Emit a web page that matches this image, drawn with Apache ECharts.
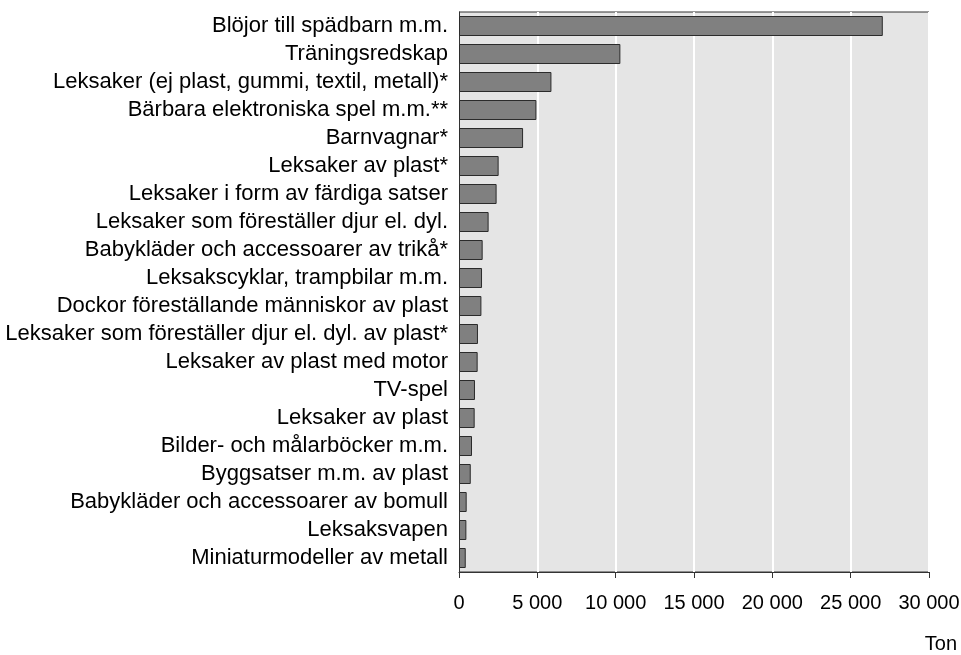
<!DOCTYPE html>
<html>
<head>
<meta charset="utf-8">
<script src="https://cdn.jsdelivr.net/npm/echarts@6/dist/echarts.min.js"></script>
<style>
  html, body { margin: 0; padding: 0; background: #fff; }
  #chart { width: 961px; height: 655px; }
</style>
</head>
<body>
<div id="chart"></div>
<script>
// kategorier, uppifrån och ned
const categories = [
  'Blöjor till spädbarn m.m.',
  'Träningsredskap',
  'Leksaker (ej plast, gummi, textil, metall)*',
  'Bärbara elektroniska spel m.m.**',
  'Barnvagnar*',
  'Leksaker av plast*',
  'Leksaker i form av färdiga satser',
  'Leksaker som föreställer djur el. dyl.',
  'Babykläder och accessoarer av trikå*',
  'Leksakscyklar, trampbilar m.m.',
  'Dockor föreställande människor av plast',
  'Leksaker som föreställer djur el. dyl. av plast*',
  'Leksaker av plast med motor',
  'TV-spel',
  'Leksaker av plast',
  'Bilder- och målarböcker m.m.',
  'Byggsatser m.m. av plast',
  'Babykläder och accessoarer av bomull',
  'Leksaksvapen',
  'Miniaturmodeller av metall'
]

// ton
const values = [27050, 10300, 5900, 4940, 4090, 2530, 2400, 1890, 1510, 1470, 1430, 1210, 1190, 1020, 1000, 830, 750, 490, 470, 430]

const xTicks = { min: 0, max: 30000, step: 5000 }
const unitLabel = 'Ton'

const chart = echarts.init(document.getElementById('chart'))

chart.setOption({
  animation: false,
  textStyle: { fontFamily: 'Liberation Sans, Arial, sans-serif' },
  title: {
    text: unitLabel,
    right: 4,
    top: 634,
    padding: 0,
    textStyle: { fontSize: 20, fontWeight: 'normal', color: '#000' }
  },
  grid: {
    left: 459,
    right: 32,
    top: 12,
    bottom: 83,
    outerBoundsMode: 'none',
    containLabel: false,
    show: true,
    backgroundColor: '#e5e5e5',
    borderColor: '#333',
    borderWidth: 1
  },
  xAxis: {
    type: 'value',
    min: xTicks.min,
    max: xTicks.max,
    interval: xTicks.step,
    axisLine: { show: true, lineStyle: { color: '#333', width: 1 } },
    axisTick: { show: true, length: 6, lineStyle: { color: '#333' } },
    splitLine: { show: true, lineStyle: { color: '#fff', width: 2 } },
    axisLabel: {
      fontSize: 20,
      color: '#000',
      margin: 21,
      hideOverlap: false,
      formatter: v => String(v).replace(/\B(?=(\d{3})+(?!\d))/g, ' ')
    }
  },
  yAxis: {
    type: 'category',
    data: categories,
    inverse: true,
    axisLine: { show: true, lineStyle: { color: '#333', width: 1 } },
    axisTick: { show: false },
    splitLine: { show: false },
    axisLabel: { fontSize: 22, color: '#000', margin: 11, interval: 0 }
  },
  series: [{
    type: 'bar',
    data: values,
    barWidth: 20,
    itemStyle: { color: '#808080', borderColor: '#2b2b2b', borderWidth: 1 }
  }]
})
</script>
</body>
</html>
